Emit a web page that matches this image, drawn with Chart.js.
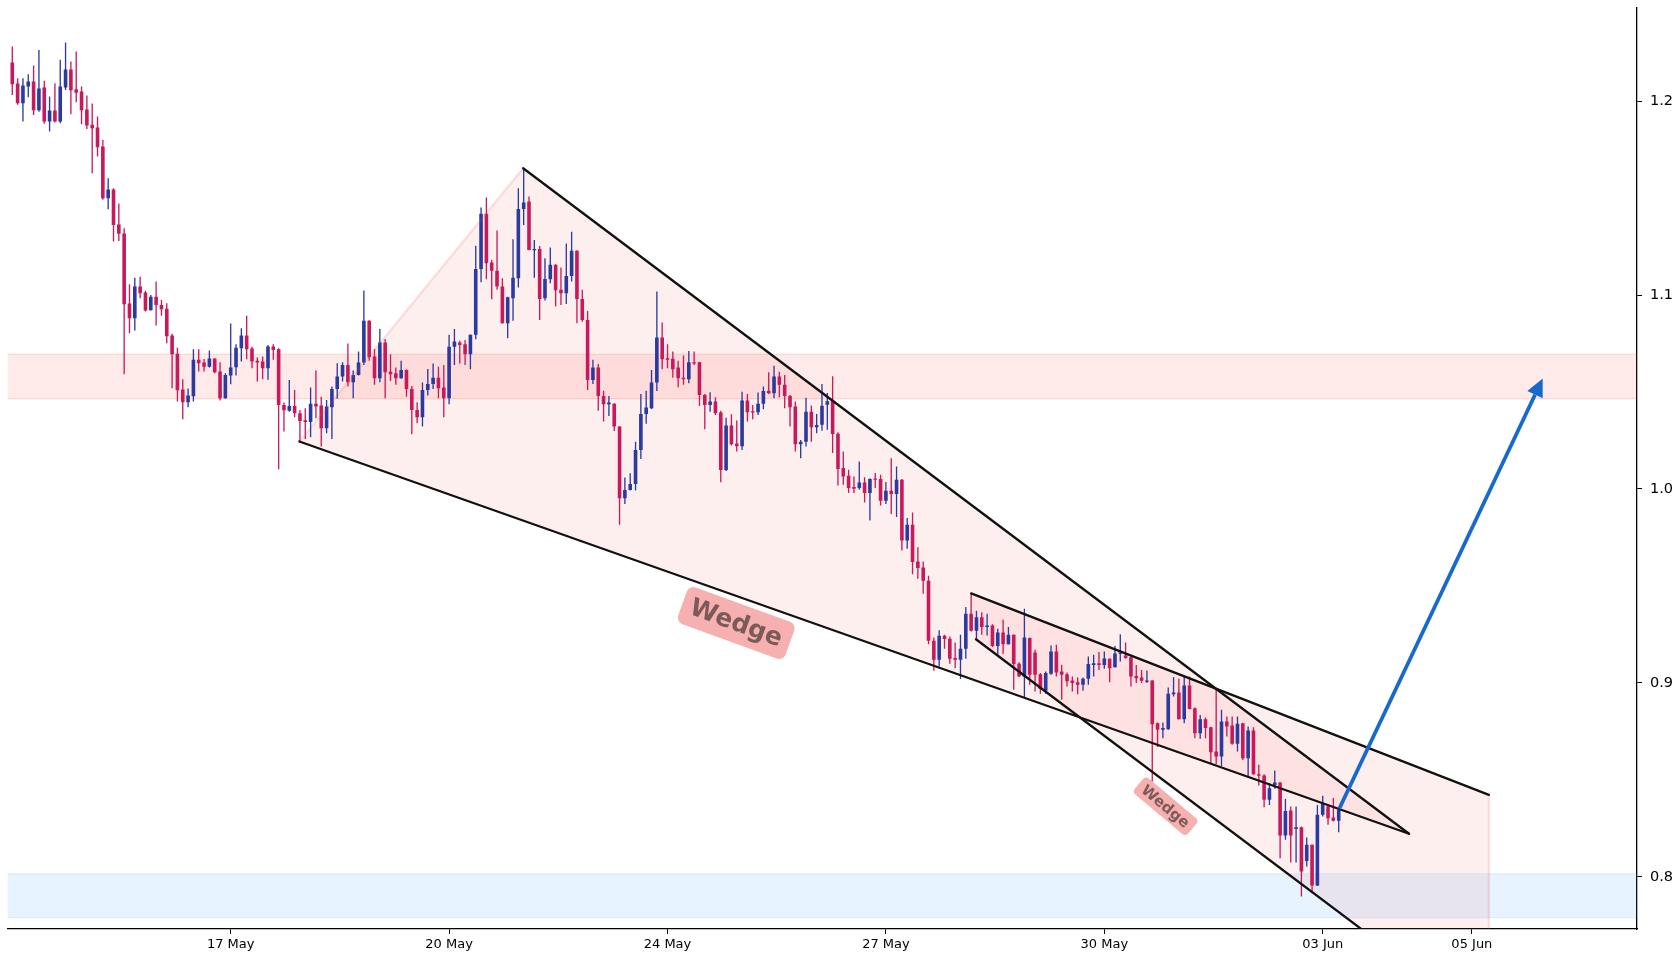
<!DOCTYPE html>
<html lang="en">
<head>
<meta charset="UTF-8">
<title>Wedge candles</title>
<script src="https://cdn.jsdelivr.net/npm/chart.js@4"></script>
<style>
  html, body { margin: 0; padding: 0; background: #fff; }
  canvas { display: block; }
</style>
</head>
<body>
<canvas id="chart" width="1680" height="960"></canvas>
<script>
// OHLC per candle (index 0..249)
const opens = [
  1.2199, 1.2091, 1.1989, 1.2075, 1.2101, 1.1953, 1.2070, 1.1895, 1.1952, 1.1895,
  1.2070, 1.2163, 1.2062, 1.2050, 1.1957, 1.1879, 1.1864, 1.1766, 1.1499, 1.1544,
  1.1364, 1.1317, 1.0956, 1.0881, 1.1044, 1.1013, 1.0922, 1.0992, 1.0949, 1.0930,
  1.0791, 1.0698, 1.0513, 1.0447, 1.0478, 1.0667, 1.0652, 1.0631, 1.0673, 1.0606,
  1.0468, 1.0585, 1.0628, 1.0726, 1.0791, 1.0724, 1.0662, 1.0657, 1.0623, 1.0735,
  1.0721, 1.0433, 1.0404, 1.0428, 1.0391, 1.0354, 1.0346, 1.0439, 1.0430, 1.0313,
  1.0421, 1.0516, 1.0580, 1.0640, 1.0550, 1.0588, 1.0652, 1.0868, 1.0683, 1.0571,
  1.0755, 1.0605, 1.0597, 1.0571, 1.0614, 1.0516, 1.0408, 1.0370, 1.0511, 1.0542,
  1.0574, 1.0523, 1.0468, 1.0733, 1.0755, 1.0746, 1.0695, 1.0795, 1.1135, 1.1420,
  1.1168, 1.1126, 1.1044, 1.0855, 1.0984, 1.1087, 1.1444, 1.1482, 1.1231, 1.1238,
  1.0984, 1.1082, 1.1156, 1.1028, 1.1009, 1.1099, 1.1229, 1.0980, 1.0872, 1.0562,
  1.0626, 1.0480, 1.0437, 1.0439, 1.0322, 0.9952, 0.9995, 1.0026, 1.0201, 1.0387,
  1.0416, 1.0549, 1.0781, 1.0672, 1.0672, 1.0626, 1.0574, 1.0566, 1.0654, 1.0654,
  1.0485, 1.0433, 1.0451, 1.0394, 1.0098, 1.0327, 1.0234, 1.0220, 1.0456, 1.0399,
  1.0396, 1.0439, 1.0507, 1.0494, 1.0580, 1.0537, 1.0480, 1.0425, 1.0231, 1.0244,
  1.0399, 1.0318, 1.0331, 1.0434, 1.0455, 1.0285, 1.0108, 1.0068, 1.0010, 1.0005,
  1.0034, 0.9979, 1.0053, 1.0051, 0.9939, 0.9991, 0.9974, 1.0048, 0.9735, 0.9816,
  0.9626, 0.9595, 0.9527, 0.9217, 0.9119, 0.9243, 0.9228, 0.9128, 0.9119, 0.9176,
  0.9357, 0.9269, 0.9338, 0.9288, 0.9296, 0.9191, 0.9260, 0.9200, 0.9248, 0.9099,
  0.9033, 0.9231, 0.9157, 0.9045, 0.8959, 0.9047, 0.9162, 0.9059, 0.9045, 0.9013,
  0.9004, 0.8990, 0.9021, 0.9093, 0.9102, 0.9093, 0.9124, 0.9081, 0.9150, 0.9141,
  0.9133, 0.9036, 0.9028, 0.9006, 0.9012, 0.8792, 0.8758, 0.8761, 0.8942, 0.8951,
  0.8813, 0.8987, 0.8870, 0.8741, 0.8813, 0.8772, 0.8646, 0.8620, 0.8801, 0.8780,
  0.8686, 0.8792, 0.8612, 0.8755, 0.8529, 0.8523, 0.8397, 0.8474, 0.8486, 0.8213,
  0.8342, 0.8247, 0.8256, 0.8082, 0.8165, 0.7955, 0.8320, 0.8363, 0.8306, 0.8289
];
const highs = [
  1.2282, 1.2118, 1.2118, 1.2139, 1.2184, 1.2264, 1.2105, 1.2024, 1.2093, 1.2213,
  1.2302, 1.2204, 1.2256, 1.2075, 1.2029, 1.1988, 1.1921, 1.1800, 1.1603, 1.1551,
  1.1472, 1.1345, 1.1056, 1.1090, 1.1095, 1.1022, 1.1001, 1.1070, 1.0975, 1.0958,
  1.0800, 1.0729, 1.0566, 1.0518, 1.0721, 1.0721, 1.0671, 1.0714, 1.0674, 1.0654,
  1.0597, 1.0853, 1.0747, 1.0829, 1.0894, 1.0734, 1.0678, 1.0683, 1.0743, 1.0747,
  1.0726, 1.0446, 1.0562, 1.0511, 1.0408, 1.0416, 1.0523, 1.0611, 1.0476, 1.0459,
  1.0528, 1.0648, 1.0654, 1.0750, 1.0611, 1.0709, 1.1023, 1.0870, 1.0722, 1.0825,
  1.0774, 1.0695, 1.0626, 1.0662, 1.0616, 1.0531, 1.0447, 1.0549, 1.0619, 1.0647,
  1.0631, 1.0640, 1.0795, 1.0825, 1.0764, 1.0769, 1.0797, 1.1255, 1.1451, 1.1503,
  1.1181, 1.1333, 1.1087, 1.0991, 1.1288, 1.1551, 1.1654, 1.1508, 1.1284, 1.1253,
  1.1190, 1.1245, 1.1159, 1.1142, 1.1266, 1.1327, 1.1231, 1.1027, 1.0918, 1.0666,
  1.0645, 1.0507, 1.0480, 1.0442, 1.0324, 1.0059, 1.0081, 1.0244, 1.0490, 1.0507,
  1.0614, 1.1018, 1.0858, 1.0746, 1.0709, 1.0662, 1.0688, 1.0712, 1.0709, 1.0656,
  1.0490, 1.0499, 1.0473, 1.0404, 1.0368, 1.0385, 1.0353, 1.0502, 1.0490, 1.0433,
  1.0497, 1.0528, 1.0602, 1.0636, 1.0605, 1.0588, 1.0485, 1.0451, 1.0253, 1.0471,
  1.0430, 1.0387, 1.0541, 1.0495, 1.0581, 1.0293, 1.0194, 1.0099, 1.0065, 1.0142,
  1.0060, 1.0056, 1.0082, 1.0073, 1.0036, 1.0159, 1.0116, 1.0051, 0.9850, 0.9879,
  0.9699, 0.9626, 0.9552, 0.9234, 0.9271, 0.9248, 0.9240, 0.9209, 0.9248, 0.9391,
  0.9460, 0.9372, 0.9365, 0.9357, 0.9303, 0.9279, 0.9326, 0.9288, 0.9250, 0.9107,
  0.9382, 0.9234, 0.9171, 0.9051, 0.9059, 0.9193, 0.9197, 0.9094, 0.9054, 0.9033,
  0.9028, 0.9028, 0.9136, 0.9145, 0.9159, 0.9162, 0.9126, 0.9191, 0.9251, 0.9208,
  0.9136, 0.9093, 0.9067, 0.9064, 0.9014, 0.8796, 0.8796, 0.8976, 0.9030, 0.9021,
  0.9030, 0.9033, 0.8873, 0.8835, 0.8822, 0.8774, 0.8964, 0.8861, 0.8827, 0.8827,
  0.8827, 0.8794, 0.8775, 0.8772, 0.8578, 0.8529, 0.8483, 0.8548, 0.8488, 0.8402,
  0.8363, 0.8363, 0.8259, 0.8203, 0.8167, 0.8371, 0.8418, 0.8366, 0.8406, 0.8345
];
const lows = [
  1.2032, 1.1981, 1.1895, 1.2020, 1.1929, 1.1946, 1.1883, 1.1843, 1.1890, 1.1886,
  1.2058, 1.1933, 1.1995, 1.1881, 1.1857, 1.1628, 1.1714, 1.1491, 1.1443, 1.1276,
  1.1279, 1.0592, 1.0803, 1.0817, 1.0984, 1.0915, 1.0920, 1.0843, 1.0894, 1.0752,
  1.0520, 1.0451, 1.0360, 1.0422, 1.0451, 1.0606, 1.0606, 1.0626, 1.0597, 1.0456,
  1.0465, 1.0540, 1.0585, 1.0657, 1.0669, 1.0623, 1.0554, 1.0566, 1.0563, 1.0666,
  1.0102, 1.0296, 1.0399, 1.0370, 1.0244, 1.0258, 1.0267, 1.0365, 1.0219, 1.0287,
  1.0258, 1.0466, 1.0554, 1.0528, 1.0468, 1.0585, 1.0640, 1.0662, 1.0537, 1.0550,
  1.0468, 1.0557, 1.0537, 1.0568, 1.0476, 1.0282, 1.0339, 1.0322, 1.0482, 1.0516,
  1.0468, 1.0370, 1.0437, 1.0640, 1.0647, 1.0640, 1.0617, 1.0772, 1.1066, 1.1082,
  1.0978, 1.1027, 1.0853, 1.0777, 1.0867, 1.1039, 1.1362, 1.1231, 1.1090, 1.0872,
  1.0972, 1.1061, 1.0941, 1.0949, 1.0954, 1.1070, 1.0855, 1.0863, 1.0511, 1.0542,
  1.0404, 1.0348, 1.0377, 1.0299, 0.9815, 0.9923, 0.9992, 0.9992, 1.0155, 1.0336,
  1.0413, 1.0506, 1.0617, 1.0623, 1.0574, 1.0525, 1.0537, 1.0545, 1.0640, 1.0428,
  1.0308, 1.0399, 1.0382, 1.0035, 1.0093, 1.0224, 1.0193, 1.0201, 1.0348, 1.0360,
  1.0382, 1.0411, 1.0490, 1.0468, 1.0473, 1.0416, 1.0322, 1.0193, 1.0158, 1.0219,
  1.0244, 1.0287, 1.0300, 1.0305, 1.0185, 1.0018, 1.0022, 0.9979, 0.9979, 0.9996,
  0.9931, 0.9838, 1.0005, 0.9915, 0.9922, 0.9871, 0.9855, 0.9683, 0.9692, 0.9561,
  0.9537, 0.9460, 0.9200, 0.9063, 0.9085, 0.9176, 0.9099, 0.9076, 0.9020, 0.9125,
  0.9265, 0.9226, 0.9248, 0.9245, 0.9185, 0.9145, 0.9149, 0.9198, 0.8965, 0.9031,
  0.8925, 0.8990, 0.8956, 0.8944, 0.8944, 0.9042, 0.9033, 0.8913, 0.8982, 0.8956,
  0.8942, 0.8959, 0.8990, 0.9033, 0.9067, 0.9073, 0.9004, 0.9079, 0.9110, 0.9124,
  0.8982, 0.8999, 0.8999, 0.8999, 0.8492, 0.8669, 0.8715, 0.8759, 0.8930, 0.8811,
  0.8792, 0.8864, 0.8715, 0.8712, 0.8715, 0.8586, 0.8581, 0.8572, 0.8724, 0.8681,
  0.8646, 0.8603, 0.8517, 0.8526, 0.8471, 0.8359, 0.8371, 0.8454, 0.8096, 0.8191,
  0.8074, 0.8074, 0.7898, 0.8053, 0.7916, 0.7953, 0.8311, 0.8268, 0.8285, 0.8230
];
const closes = [
  1.2087, 1.1989, 1.2081, 1.2101, 1.1953, 1.2065, 1.1895, 1.1952, 1.1895, 1.2075,
  1.2163, 1.2056, 1.2044, 1.1953, 1.1874, 1.1860, 1.1762, 1.1499, 1.1544, 1.1362,
  1.1316, 1.0953, 1.0881, 1.1044, 1.1009, 1.0920, 1.0992, 1.0949, 1.0927, 1.0788,
  1.0695, 1.0509, 1.0447, 1.0482, 1.0667, 1.0648, 1.0631, 1.0673, 1.0602, 1.0468,
  1.0588, 1.0626, 1.0729, 1.0791, 1.0721, 1.0657, 1.0652, 1.0623, 1.0735, 1.0717,
  1.0433, 1.0406, 1.0428, 1.0391, 1.0351, 1.0346, 1.0439, 1.0425, 1.0313, 1.0425,
  1.0516, 1.0580, 1.0640, 1.0550, 1.0588, 1.0652, 1.0868, 1.0679, 1.0571, 1.0755,
  1.0602, 1.0592, 1.0571, 1.0614, 1.0516, 1.0408, 1.0370, 1.0511, 1.0542, 1.0574,
  1.0519, 1.0468, 1.0734, 1.0760, 1.0743, 1.0695, 1.0795, 1.1135, 1.1420, 1.1164,
  1.1125, 1.1044, 1.0855, 1.0989, 1.1090, 1.1444, 1.1477, 1.1233, 1.1238, 1.0980,
  1.1083, 1.1156, 1.1025, 1.1009, 1.1099, 1.1229, 1.0980, 1.0872, 1.0562, 1.0626,
  1.0480, 1.0437, 1.0446, 1.0322, 0.9952, 0.9995, 1.0026, 1.0201, 1.0387, 1.0420,
  1.0549, 1.0781, 1.0669, 1.0667, 1.0617, 1.0571, 1.0566, 1.0654, 1.0647, 1.0485,
  1.0433, 1.0451, 1.0391, 1.0098, 1.0327, 1.0231, 1.0220, 1.0456, 1.0396, 1.0394,
  1.0439, 1.0506, 1.0494, 1.0580, 1.0537, 1.0480, 1.0421, 1.0231, 1.0244, 1.0399,
  1.0318, 1.0330, 1.0429, 1.0452, 1.0283, 1.0103, 1.0065, 1.0005, 1.0001, 1.0034,
  0.9979, 1.0051, 1.0048, 0.9939, 0.9991, 0.9974, 1.0048, 0.9735, 0.9816, 0.9623,
  0.9592, 0.9527, 0.9217, 0.9119, 0.9243, 0.9226, 0.9125, 0.9119, 0.9176, 0.9357,
  0.9269, 0.9338, 0.9288, 0.9296, 0.9191, 0.9260, 0.9200, 0.9248, 0.9097, 0.9033,
  0.9234, 0.9042, 0.9042, 0.8968, 0.9051, 0.9162, 0.9054, 0.9042, 0.9008, 0.8999,
  0.8990, 0.9021, 0.9097, 0.9102, 0.9093, 0.9126, 0.9076, 0.9152, 0.9157, 0.9128,
  0.9033, 0.9024, 0.9011, 0.9012, 0.8787, 0.8758, 0.8767, 0.8944, 0.8951, 0.8813,
  0.8987, 0.8866, 0.8741, 0.8813, 0.8767, 0.8643, 0.8620, 0.8801, 0.8775, 0.8686,
  0.8789, 0.8612, 0.8755, 0.8529, 0.8521, 0.8397, 0.8457, 0.8486, 0.8213, 0.8340,
  0.8213, 0.8256, 0.8027, 0.8165, 0.7955, 0.8320, 0.8375, 0.8302, 0.8289, 0.8345
];

// x axis: candle index positions of the date ticks
const xTickPos = [41, 82, 123, 164, 205, 246, 274];
const xTickLabels = ['17 May', '20 May', '24 May', '27 May', '30 May', '03 Jun', '05 Jun'];
const yTicks = [0.8, 0.9, 1.0, 1.1, 1.2];

// drawings, in [candle index, price]
const resistanceZone = [1.0465, 1.0695];
const supportZone = [0.7789, 0.8016];
const bigWedge = [[53.9, 1.0245], [95.9, 1.1654], [262.2, 0.8222]];
const smallWedge = [[180.0, 0.9462], [277.2, 0.8423], [277.2, 0.7236], [180.9, 0.9225]];
const targetArrow = [[249.1, 0.8351], [287.3, 1.0570]];
const wedgeLabels = [[135.9, 0.9309], [216.5, 0.8364]];

const UP = '#2b3a9e';
const DOWN = '#c81a5a';
const candleColors = opens.map((o, i) => closes[i] >= o ? UP : DOWN);

const drawings = {
  id: 'drawings',
  beforeDatasetsDraw(chart) {
    const { ctx, chartArea: a, scales: { x, y } } = chart;
    ctx.save();
    ctx.beginPath();
    ctx.rect(a.left, a.top, a.right - a.left, a.bottom - a.top);
    ctx.clip();

    const band = (zone, fill, edge) => {
      const top = y.getPixelForValue(zone[1]);
      const bot = y.getPixelForValue(zone[0]);
      ctx.fillStyle = fill;
      ctx.fillRect(a.left, top, a.right - a.left, bot - top);
      ctx.strokeStyle = edge;
      ctx.lineWidth = 1.5;
      ctx.beginPath();
      ctx.moveTo(a.left, top); ctx.lineTo(a.right, top);
      ctx.moveTo(a.left, bot); ctx.lineTo(a.right, bot);
      ctx.stroke();
    };
    band(resistanceZone, 'rgba(244,67,54,0.11)', 'rgba(244,67,54,0.13)');
    band(supportZone, 'rgba(33,150,243,0.11)', 'rgba(33,150,243,0.09)');

    // wedge fills
    for (const poly of [bigWedge, smallWedge]) {
      ctx.beginPath();
      poly.forEach((p, i) => {
        const px = x.getPixelForValue(p[0]), py = y.getPixelForValue(p[1]);
        if (i === 0) ctx.moveTo(px, py); else ctx.lineTo(px, py);
      });
      ctx.closePath();
      ctx.fillStyle = 'rgba(239,83,80,0.09)';
      ctx.fill();
    }
    ctx.restore();
  },
  afterDatasetsDraw(chart) {
    const { ctx, chartArea: a, scales: { x, y } } = chart;
    const P = p => [x.getPixelForValue(p[0]), y.getPixelForValue(p[1])];
    ctx.save();
    ctx.beginPath();
    ctx.rect(a.left, a.top, a.right - a.left, a.bottom - a.top);
    ctx.clip();

    const seg = (p, q, color, w) => {
      const [x1, y1] = P(p), [x2, y2] = P(q);
      ctx.strokeStyle = color;
      ctx.lineWidth = w;
      ctx.lineCap = 'round';
      ctx.beginPath();
      ctx.moveTo(x1, y1);
      ctx.lineTo(x2, y2);
      ctx.stroke();
    };
    const faint = 'rgba(239,83,80,0.16)';
    const dark = '#111';
    seg(bigWedge[0], bigWedge[1], faint, 2.5);
    seg(bigWedge[1], bigWedge[2], dark, 2.3);
    seg(bigWedge[2], bigWedge[0], dark, 2.3);
    seg(smallWedge[1], smallWedge[2], faint, 2.5);
    seg(smallWedge[0], smallWedge[1], dark, 2.3);
    seg(smallWedge[3], smallWedge[2], dark, 2.3);

    // target arrow
    const [ax, ay] = P(targetArrow[0]);
    const [bx, by] = P(targetArrow[1]);
    const ang = Math.atan2(by - ay, bx - ax);
    const headLen = 18, headHalf = 8.5;
    const baseX = bx - headLen * Math.cos(ang), baseY = by - headLen * Math.sin(ang);
    ctx.strokeStyle = '#1869cc';
    ctx.lineWidth = 3.8;
    ctx.lineCap = 'butt';
    ctx.beginPath();
    ctx.moveTo(ax, ay);
    ctx.lineTo(baseX, baseY);
    ctx.stroke();
    ctx.fillStyle = '#1869cc';
    ctx.beginPath();
    ctx.moveTo(bx, by);
    ctx.lineTo(baseX + headHalf * Math.sin(ang), baseY - headHalf * Math.cos(ang));
    ctx.lineTo(baseX - headHalf * Math.sin(ang), baseY + headHalf * Math.cos(ang));
    ctx.closePath();
    ctx.fill();

    // "Wedge" tags
    const tag = (p, size, deg, padX, padY) => {
      const [cx, cy] = P(p);
      ctx.save();
      ctx.translate(cx, cy);
      ctx.rotate(deg * Math.PI / 180);
      ctx.font = `bold ${size}px "DejaVu Sans"`;
      const w = ctx.measureText('Wedge').width + padX * 2;
      const h = size + padY * 2;
      ctx.fillStyle = 'rgba(240,128,128,0.62)';
      ctx.beginPath();
      ctx.roundRect(-w / 2, -h / 2, w, h, size * 0.28);
      ctx.fill();
      ctx.fillStyle = 'rgba(105,75,75,0.85)';
      ctx.textAlign = 'center';
      ctx.textBaseline = 'middle';
      ctx.fillText('Wedge', 0, 1);
      ctx.restore();
    };
    tag(wedgeLabels[0], 25, 20, 9, 7);
    tag(wedgeLabels[1], 15, 40, 6, 3);
    ctx.restore();
  }
};

new Chart(document.getElementById('chart'), {
  type: 'bar',
  data: {
    datasets: [
      {
        label: 'wick',
        data: opens.map((o, i) => ({ x: i, y: [lows[i], highs[i]] })),
        backgroundColor: candleColors,
        grouped: false,
        categoryPercentage: 1,
        barPercentage: 0.25,
        order: 2
      },
      {
        label: 'body',
        data: opens.map((o, i) => ({ x: i, y: [o, closes[i]] })),
        backgroundColor: candleColors,
        grouped: false,
        categoryPercentage: 1,
        barPercentage: 0.68,
        minBarLength: 1.3,
        order: 1
      }
    ]
  },
  options: {
    responsive: false,
    animation: false,
    devicePixelRatio: 1,
    layout: { padding: { left: 7.5, top: 7.5, right: 0, bottom: 0 } },
    plugins: { legend: { display: false }, tooltip: { enabled: false } },
    scales: {
      x: {
        type: 'linear',
        min: -0.9,
        max: 305,
        offset: false,
        grid: { offset: false, drawOnChartArea: false, drawTicks: true, tickLength: 5, color: '#000' },
        border: { display: true, color: '#000', width: 1.3 },
        ticks: {
          autoSkip: false,
          maxRotation: 0,
          padding: 3,
          color: '#000',
          font: { family: 'DejaVu Sans', size: 13 },
          callback: v => xTickLabels[xTickPos.indexOf(v)]
        },
        afterBuildTicks: s => { s.ticks = xTickPos.map(v => ({ value: v })); },
        afterFit: s => { s.height = 31; s.paddingLeft = 0; s.paddingRight = 0; }
      },
      y: {
        type: 'linear',
        position: 'right',
        min: 0.7731,
        max: 1.2483,
        grid: { offset: false, drawOnChartArea: false, drawTicks: true, tickLength: 5, color: '#000' },
        border: { display: true, color: '#000', width: 1.3 },
        ticks: {
          padding: 8,
          color: '#000',
          font: { family: 'DejaVu Sans', size: 14.5 },
          callback: v => v.toFixed(1)
        },
        afterBuildTicks: s => { s.ticks = yTicks.map(v => ({ value: v })); },
        afterFit: s => { s.width = 43; s.paddingTop = 0; s.paddingBottom = 0; }
      }
    }
  },
  plugins: [drawings]
});
</script>
</body>
</html>
